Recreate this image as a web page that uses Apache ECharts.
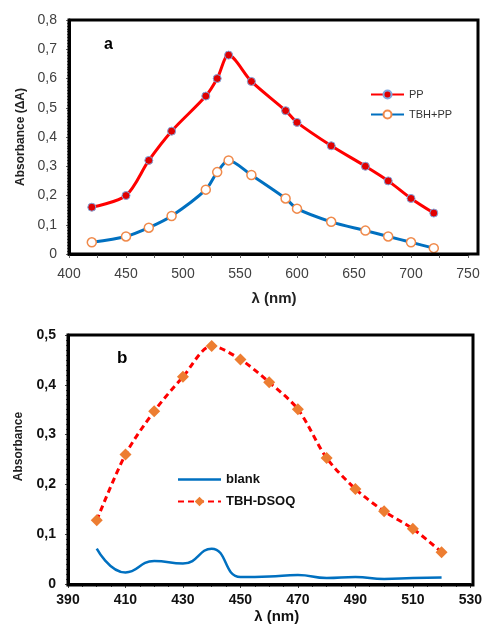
<!DOCTYPE html>
<html>
<head>
<meta charset="utf-8">
<script src="https://cdn.jsdelivr.net/npm/echarts@6/dist/echarts.min.js"></script>
<style>
  html, body { margin: 0; padding: 0; background: #fff; }
  #chart { width: 485px; height: 625px; }
</style>
</head>
<body>
<div id="chart"></div>
<script>
// Panel a: absorbance spectra of PP and TBH+PP
const wavelengthA = [420, 450, 470, 490, 520, 530, 540, 560, 590, 600, 630, 660, 680, 700, 720];
const absPP     = [0.16, 0.20, 0.32, 0.42, 0.54, 0.60, 0.68, 0.59, 0.49, 0.45, 0.37, 0.30, 0.25, 0.19, 0.14];
const absTBHPP  = [0.04, 0.06, 0.09, 0.13, 0.22, 0.28, 0.32, 0.27, 0.19, 0.155, 0.11, 0.08, 0.06, 0.04, 0.02];

// Panel b: blank and TBH-DSOQ spectra
const wavelengthB = [400, 410, 420, 430, 440, 450, 460, 470, 480, 490, 500, 510, 520];
const absBlank    = [0.071, 0.023, 0.046, 0.041, 0.071, 0.014, 0.015, 0.018, 0.012, 0.014, 0.010, 0.012, 0.013];
const absTBHDSOQ  = [0.128, 0.260, 0.347, 0.416, 0.478, 0.451, 0.405, 0.351, 0.253, 0.191, 0.146, 0.111, 0.064];

const yTicksA = { min: 0, max: 0.8, step: 0.1 };
const yTicksB = { min: 0, max: 0.5, step: 0.1 };
const xTicksA = { min: 400, max: 750, step: 50 };
const xTicksB = { min: 390, max: 530, step: 20 };

const pairs = (xs, ys) => xs.map((x, i) => [x, ys[i]]);
const commaFmt = v => (v === 0 ? '0' : v.toFixed(1).replace('.', ','));
const FONT = '"Liberation Sans", Arial, sans-serif';

// plain line swatch for a series drawn without markers
const LINE_ICON = 'path://M0,0L0,0M0,4.8L43,4.8L43,7.2L0,7.2ZM0,12L0,12';

const chart = echarts.init(document.getElementById('chart'), null, { renderer: 'canvas' });

chart.setOption({
  animation: false,
  backgroundColor: '#fff',
  textStyle: { fontFamily: FONT },
  title: [
    { text: 'a', left: 104, top: 37, padding: 0,
      textStyle: { fontSize: 16, fontWeight: 'bold', color: '#000', fontFamily: FONT } },
    { text: 'b', left: 117, top: 350, padding: 0,
      textStyle: { fontSize: 17, fontWeight: 'bold', color: '#000', fontFamily: FONT } }
  ],
  legend: [
    {
      data: ['PP', 'TBH+PP'],
      orient: 'vertical', left: 370, top: 89, padding: 0,
      itemWidth: 33, itemHeight: 10, itemGap: 9,
      textStyle: { fontSize: 11, color: '#333', fontFamily: FONT }
    },
    {
      data: [{ name: 'blank', icon: LINE_ICON }, 'TBH-DSOQ'],
      orient: 'vertical', left: 177, top: 473, padding: 0,
      itemWidth: 43, itemHeight: 12, itemGap: 9,
      textStyle: { fontSize: 13, fontWeight: 'bold', color: '#111', fontFamily: FONT }
    }
  ],
  grid: [
    { left: 69, top: 20, width: 399, height: 234 },
    { left: 68, top: 335, width: 405, height: 250 }
  ],
  xAxis: [
    {
      gridIndex: 0, type: 'value',
      min: xTicksA.min, max: xTicksA.max, interval: xTicksA.step,
      name: 'λ (nm)', nameLocation: 'middle', nameGap: 37,
      nameTextStyle: { fontSize: 15, fontWeight: 'bold', color: '#222', padding: [0, 0, 0, 11] },
      axisLine: { show: true, lineStyle: { color: '#000', width: 3 } },
      axisTick: { show: true, length: 4, lineStyle: { color: '#666' } },
      minorTick: { show: true, splitNumber: 2, length: 4, lineStyle: { color: '#666' } },
      splitLine: { show: false },
      axisLabel: { fontSize: 14, color: '#404040', margin: 13, fontFamily: FONT }
    },
    {
      gridIndex: 1, type: 'value',
      min: xTicksB.min, max: xTicksB.max, interval: xTicksB.step,
      name: 'λ (nm)', nameLocation: 'middle', nameGap: 25,
      nameTextStyle: { fontSize: 15, fontWeight: 'bold', color: '#111', padding: [0, 0, 0, 15] },
      axisLine: { show: true, lineStyle: { color: '#000', width: 3 } },
      axisTick: { show: true, length: 4, lineStyle: { color: '#444' } },
      minorTick: { show: true, splitNumber: 4, length: 3, lineStyle: { color: '#444' } },
      splitLine: { show: false },
      axisLabel: { fontSize: 14, fontWeight: 'bold', color: '#111', margin: 9, fontFamily: FONT }
    }
  ],
  yAxis: [
    {
      gridIndex: 0, type: 'value',
      min: yTicksA.min, max: yTicksA.max, interval: yTicksA.step,
      name: 'Absorbance (ΔA)', nameLocation: 'middle', nameGap: 36, nameRotate: 90,
      nameTextStyle: { fontSize: 12, fontWeight: 'bold', color: '#222' },
      axisLine: { show: true, lineStyle: { color: '#000', width: 3 } },
      axisTick: { show: true, length: 3, lineStyle: { color: '#666' } },
      minorTick: { show: true, splitNumber: 10, length: 2, lineStyle: { color: '#666' } },
      splitLine: { show: false },
      axisLabel: { fontSize: 14, color: '#404040', margin: 12, formatter: commaFmt, fontFamily: FONT }
    },
    {
      gridIndex: 1, type: 'value',
      min: yTicksB.min, max: yTicksB.max, interval: yTicksB.step,
      name: 'Absorbance', nameLocation: 'middle', nameGap: 43, nameRotate: 90,
      nameTextStyle: { fontSize: 12, fontWeight: 'bold', color: '#222', padding: [0, 0, 0, 26] },
      axisLine: { show: true, lineStyle: { color: '#000', width: 3 } },
      axisTick: { show: true, length: 3, lineStyle: { color: '#444' } },
      minorTick: { show: true, splitNumber: 10, length: 2, lineStyle: { color: '#444' } },
      splitLine: { show: false },
      axisLabel: { fontSize: 14, fontWeight: 'bold', color: '#111', margin: 12, formatter: commaFmt, fontFamily: FONT }
    }
  ],
  graphic: [
    // outer frames around both plot areas
    { type: 'rect', z: 100, silent: true,
      shape: { x: 69, y: 20, width: 409, height: 234 },
      style: { fill: null, stroke: '#000', lineWidth: 3 } },
    { type: 'rect', z: 100, silent: true,
      shape: { x: 68, y: 335, width: 405, height: 250 },
      style: { fill: null, stroke: '#000', lineWidth: 3 } }
  ],
  series: [
    {
      name: 'PP', type: 'line', xAxisIndex: 0, yAxisIndex: 0,
      data: pairs(wavelengthA, absPP),
      smooth: 0.3,
      symbol: 'circle', symbolSize: 8,
      lineStyle: { color: '#FF0000', width: 3 },
      itemStyle: { color: '#E00000', borderColor: '#7FA7DF', borderWidth: 1 }
    },
    {
      name: 'TBH+PP', type: 'line', xAxisIndex: 0, yAxisIndex: 0,
      data: pairs(wavelengthA, absTBHPP),
      smooth: 0.3,
      symbol: 'circle', symbolSize: 9,
      lineStyle: { color: '#0070C0', width: 3 },
      itemStyle: { color: '#FFFFFF', borderColor: '#F08A4B', borderWidth: 1.5 }
    },
    {
      name: 'blank', type: 'line', xAxisIndex: 1, yAxisIndex: 1,
      data: pairs(wavelengthB, absBlank),
      smooth: 0.5,
      symbol: 'none',
      lineStyle: { color: '#0070C0', width: 2.5 },
      itemStyle: { color: '#0070C0' }
    },
    {
      name: 'TBH-DSOQ', type: 'line', xAxisIndex: 1, yAxisIndex: 1,
      data: pairs(wavelengthB, absTBHDSOQ),
      smooth: 0.3,
      symbol: 'diamond', symbolSize: 12,
      lineStyle: { color: '#FF0000', width: 3, type: [6, 4] },
      itemStyle: { color: '#ED7D31' }
    }
  ]
});
</script>
</body>
</html>
